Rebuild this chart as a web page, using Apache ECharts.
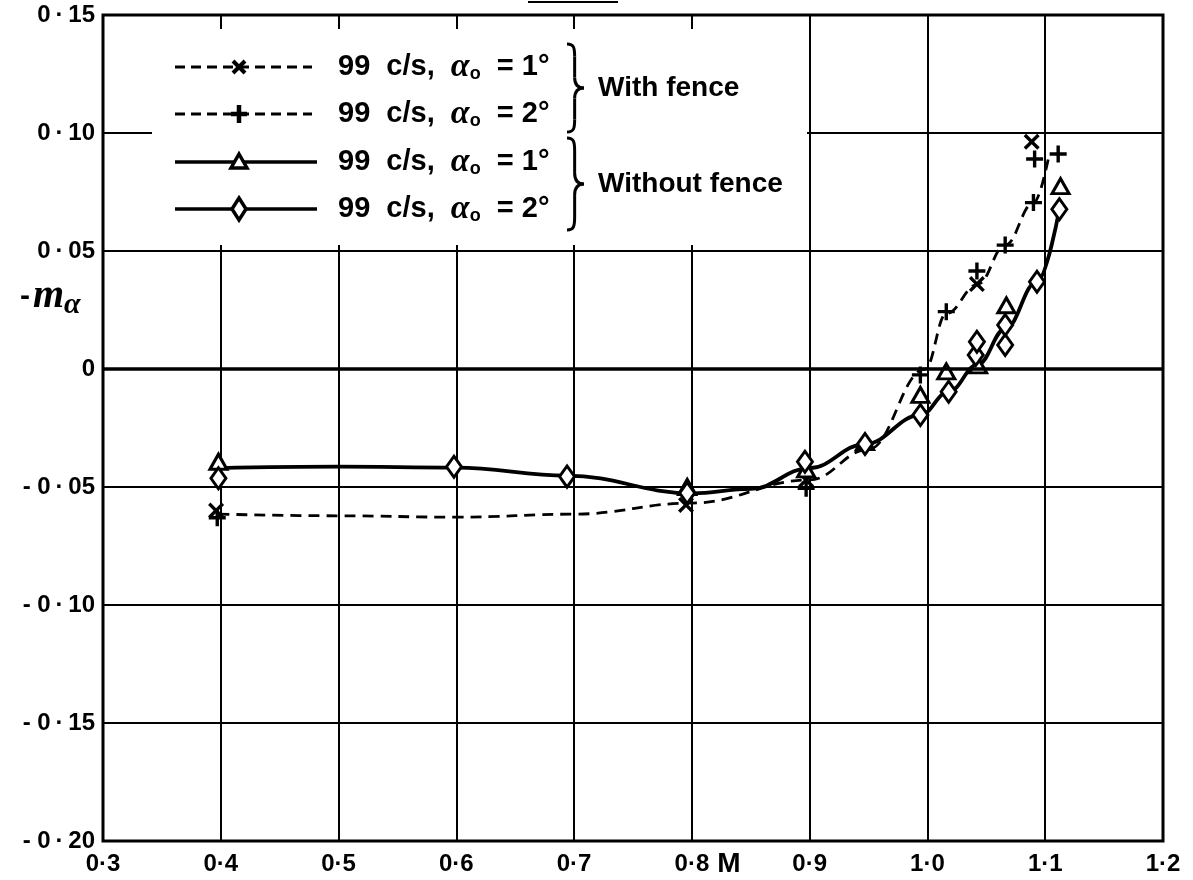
<!DOCTYPE html>
<html>
<head>
<meta charset="utf-8">
<script src="https://cdn.jsdelivr.net/npm/echarts@6/dist/echarts.min.js"></script>
<style>
  html, body { margin: 0; padding: 0; background: #fff; }
  #chart { width: 1193px; height: 880px; }
</style>
</head>
<body>
<div id="chart"></div>
<script>
// Axis ticks and their printed labels
const xTicks = [0.3, 0.4, 0.5, 0.6, 0.7, 0.8, 0.9, 1.0, 1.1, 1.2];
const xTickLabels = ['0·3', '0·4', '0·5', '0·6', '0·7', '0·8', '0·9', '1·0', '1·1', '1·2'];
const yTicks = [0.15, 0.10, 0.05, 0, -0.05, -0.10, -0.15, -0.20];
const yTickLabels = ['0\u2009·\u200915', '0\u2009·\u200910', '0\u2009·\u200905', '0',
                     '- 0\u2009·\u200905', '- 0\u2009·\u200910', '- 0\u2009·\u200915', '- 0\u2009·\u200920'];

// Measured points [M, -m_alpha]
const fence1Pts = [[0.396, -0.0600], [0.795, -0.0576], [0.897, -0.0470], [1.042, 0.0360], [1.0885, 0.0963]];
const fence2Pts = [[0.397, -0.0630], [0.897, -0.0505], [0.994, -0.0025], [1.016, 0.0243], [1.042, 0.0415],
                   [1.066, 0.0525], [1.090, 0.0705], [1.091, 0.0890], [1.111, 0.0911]];
const noFence1Pts = [[0.398, -0.0393], [0.796, -0.0500], [0.897, -0.0425], [0.947, -0.0310], [0.994, -0.0110],
                     [1.016, -0.0010], [1.043, 0.0015], [1.067, 0.0270], [1.113, 0.0775]];
const noFence2Pts = [[0.398, -0.0463], [0.598, -0.0414], [0.694, -0.0456], [0.796, -0.0525], [0.896, -0.0393],
                     [0.947, -0.0318], [0.994, -0.0195], [1.018, -0.0096], [1.041, 0.0059], [1.042, 0.0115],
                     [1.066, 0.0102], [1.066, 0.0186], [1.093, 0.0370], [1.112, 0.0677]];

// Faired curves through the measurements
const fenceCurve = [[0.398, -0.0615], [0.5, -0.0622], [0.6, -0.0628], [0.7, -0.0615], [0.8, -0.0568],
                    [0.9, -0.0470], [0.95, -0.0340], [0.998, 0.0000], [1.016, 0.0235], [1.043, 0.0360],
                    [1.066, 0.0525], [1.090, 0.0703], [1.103, 0.0900]];
const noFenceCurve = [[0.398, -0.0420], [0.5, -0.0414], [0.6, -0.0418], [0.694, -0.0452], [0.8, -0.0527],
                      [0.85, -0.0508], [0.9, -0.0420], [0.947, -0.0318], [0.994, -0.0195], [1.018, -0.0096],
                      [1.043, 0.0020], [1.066, 0.0170], [1.093, 0.0370], [1.112, 0.0677]];

// Legend entries
const legendNames = ['99  c/s,  ', '99  c/s,  ', '99  c/s,  ', '99  c/s,  '];
const legendAngles = ['1°', '2°', '1°', '2°'];
const groupLabels = ['With fence', 'Without fence'];

const FONT = "'Liberation Sans', 'DejaVu Sans', sans-serif";
const SERIF = "'Liberation Serif', 'DejaVu Serif', serif";

const CROSS = 'path://M3,0 L10,7 L17,0 L20,3 L13,10 L20,17 L17,20 L10,13 L3,20 L0,17 L7,10 L0,3 Z';
const PLUS = 'path://M8,0 H12 V8 H20 V12 H12 V20 H8 V12 H0 V8 H8 Z';

function tickText(ticks, labels, v) {
  for (let i = 0; i < ticks.length; i++) {
    if (Math.abs(ticks[i] - v) < 1e-6) return labels[i];
  }
  return '';
}

// A right curly brace built from bezier pieces and straight strokes
function braceParts(x, y, w, h, z) {
  const m = x + w * 0.45;
  const st = { stroke: '#000', lineWidth: 3, fill: null };
  const bz = function (x1, y1, c1x, c1y, c2x, c2y, x2, y2) {
    return { type: 'bezierCurve', z: z, silent: true, style: st,
      shape: { x1: x1, y1: y1, cpx1: c1x, cpy1: c1y, cpx2: c2x, cpy2: c2y, x2: x2, y2: y2 } };
  };
  const ln = function (x1, y1, x2, y2) {
    return { type: 'line', z: z, silent: true, style: st, shape: { x1: x1, y1: y1, x2: x2, y2: y2 } };
  };
  return [
    bz(x, y, x + w * 0.4, y, m, y + h * 0.04, m, y + h * 0.14),
    ln(m, y + h * 0.14, m, y + h * 0.38),
    bz(m, y + h * 0.38, m, y + h * 0.47, x + w * 0.7, y + h * 0.5, x + w, y + h * 0.5),
    bz(x + w, y + h * 0.5, x + w * 0.7, y + h * 0.5, m, y + h * 0.53, m, y + h * 0.62),
    ln(m, y + h * 0.62, m, y + h * 0.86),
    bz(m, y + h * 0.86, m, y + h * 0.96, x + w * 0.4, y + h, x, y + h)
  ];
}

const markerStyle = {
  cross: { symbol: CROSS, size: 16, color: '#000', border: 0 },
  plus: { symbol: PLUS, size: 17, color: '#000', border: 0 },
  tri: { symbol: 'triangle', size: [17, 15], color: '#fff', border: 3 },
  dia: { symbol: 'diamond', size: [15, 21], color: '#fff', border: 3 }
};

function scatter(name, data, m) {
  return {
    name: name, type: 'scatter', data: data, z: 4,
    symbol: m.symbol, symbolSize: m.size,
    itemStyle: { color: m.color, borderColor: '#000', borderWidth: m.border, opacity: 1 },
    silent: true
  };
}

// Legend drawn as graphic elements
const legendRows = [67, 114, 162, 209];
const legendMarkers = ['cross', 'plus', 'tri', 'dia'];
const legendDashed = [true, true, false, false];
const legendGraphics = [];
legendGraphics.push({
  type: 'rect', z: 50, silent: true,
  shape: { x: 152, y: 29, width: 655, height: 216 },
  style: { fill: '#fff' }
});
legendRows.forEach(function (y, i) {
  legendGraphics.push({
    type: 'line', z: 60, silent: true,
    shape: { x1: 175, y1: y, x2: legendDashed[i] ? 312 : 317, y2: y },
    style: { stroke: '#000', lineWidth: legendDashed[i] ? 2.8 : 3.6, lineDash: legendDashed[i] ? [10, 6] : null }
  });
  const cx = 239;
  const mk = legendMarkers[i];
  if (mk === 'cross') {
    [[-6, -6, 6, 6], [6, -6, -6, 6]].forEach(function (s) {
      legendGraphics.push({ type: 'line', z: 61, silent: true,
        shape: { x1: cx + s[0], y1: y + s[1], x2: cx + s[2], y2: y + s[3] },
        style: { stroke: '#000', lineWidth: 4 } });
    });
  } else if (mk === 'plus') {
    [[0, -9, 0, 9], [-8, 0, 8, 0]].forEach(function (s) {
      legendGraphics.push({ type: 'line', z: 61, silent: true,
        shape: { x1: cx + s[0], y1: y + s[1], x2: cx + s[2], y2: y + s[3] },
        style: { stroke: '#000', lineWidth: 4.5 } });
    });
  } else if (mk === 'tri') {
    legendGraphics.push({ type: 'polygon', z: 61, silent: true,
      shape: { points: [[cx, y - 8], [cx + 8, y + 6], [cx - 8, y + 6]] },
      style: { stroke: '#000', lineWidth: 3.5, fill: '#fff' } });
  } else {
    legendGraphics.push({ type: 'polygon', z: 61, silent: true,
      shape: { points: [[cx, y - 11], [cx + 7, y], [cx, y + 11], [cx - 7, y]] },
      style: { stroke: '#000', lineWidth: 3.5, fill: '#fff' } });
  }
  legendGraphics.push({
    type: 'text', z: 60, silent: true, x: 338, y: y,
    style: {
      text: '{t|' + legendNames[i] + '}{a|α}{s|o}{t|  = ' + legendAngles[i] + '}',
      verticalAlign: 'middle',
      rich: {
        t: { fontFamily: FONT, fontWeight: 'bold', fontSize: 29, fill: '#000' },
        a: { fontFamily: SERIF, fontStyle: 'italic', fontWeight: 'bold', fontSize: 34, fill: '#000' },
        s: { fontFamily: FONT, fontWeight: 'bold', fontSize: 18, fill: '#000', padding: [14, 0, 0, 0] }
      }
    }
  });
});
// Group braces and labels
[[44, 88], [138, 92]].forEach(function (b, i) {
  braceParts(567, b[0], 17, b[1], 60).forEach(function (p) { legendGraphics.push(p); });
  legendGraphics.push({
    type: 'text', z: 60, silent: true, x: 598, y: b[0] + b[1] / 2,
    style: { text: groupLabels[i], fontFamily: FONT, fontWeight: 'bold', fontSize: 28, fill: '#000', verticalAlign: 'middle' }
  });
});
// Axis titles
legendGraphics.push({
  type: 'text', z: 60, silent: true, x: 729, y: 864,
  style: { text: 'M', fontFamily: FONT, fontWeight: 'bold', fontSize: 28, fill: '#000', align: 'center', verticalAlign: 'middle' }
});
legendGraphics.push({
  type: 'text', z: 60, silent: true, x: 20, y: 297,
  style: {
    text: '{d|-}{m|m}{s|α}',
    verticalAlign: 'middle',
    rich: {
      d: { fontFamily: FONT, fontWeight: 'bold', fontSize: 30, fill: '#000', padding: [0, 3, 0, 0] },
      m: { fontFamily: SERIF, fontStyle: 'italic', fontWeight: 'bold', fontSize: 40, fill: '#000' },
      s: { fontFamily: SERIF, fontStyle: 'italic', fontWeight: 'bold', fontSize: 30, fill: '#000', padding: [16, 0, 0, 0] }
    }
  }
});
legendGraphics.push({
  type: 'line', z: 60, silent: true,
  shape: { x1: 528, y1: 2, x2: 618, y2: 2 },
  style: { stroke: '#000', lineWidth: 2 }
});

const chart = echarts.init(document.getElementById('chart'), null, { renderer: 'canvas' });
chart.setOption({
  animation: false,
  backgroundColor: '#fff',
  grid: { left: 103, right: 30, top: 15, bottom: 39, show: true, borderColor: '#000', borderWidth: 3, backgroundColor: 'transparent' },
  xAxis: {
    type: 'value', min: 0.3, max: 1.2, interval: 0.1,
    axisLine: { show: false }, axisTick: { show: false },
    splitLine: { show: true, lineStyle: { color: '#000', width: 2 } },
    axisLabel: {
      color: '#000', fontFamily: FONT, fontWeight: 'bold', fontSize: 24, margin: 11,
      formatter: function (v) { return tickText(xTicks, xTickLabels, v); }
    }
  },
  yAxis: {
    type: 'value', min: -0.20, max: 0.15, interval: 0.05,
    axisLine: { show: false }, axisTick: { show: false },
    splitLine: { show: true, lineStyle: { color: '#000', width: 2 } },
    axisLabel: {
      color: '#000', fontFamily: FONT, fontWeight: 'bold', fontSize: 24, margin: 8,
      formatter: function (v) { return tickText(yTicks, yTickLabels, v); }
    }
  },
  graphic: legendGraphics,
  series: [
    {
      name: 'fence curve', type: 'line', data: fenceCurve, showSymbol: false, z: 3,
      smooth: 0.4, smoothMonotone: 'x', silent: true,
      lineStyle: { color: '#000', width: 2.8, type: [11, 7] },
      markLine: {
        silent: true, symbol: 'none', label: { show: false },
        lineStyle: { color: '#000', width: 3.5, type: 'solid' },
        data: [{ yAxis: 0 }]
      }
    },
    {
      name: 'no fence curve', type: 'line', data: noFenceCurve, showSymbol: false, z: 3,
      smooth: 0.4, smoothMonotone: 'x', silent: true,
      lineStyle: { color: '#000', width: 3.8, type: 'solid' }
    },
    scatter('99 c/s, α₀ = 1° (with fence)', fence1Pts, markerStyle.cross),
    scatter('99 c/s, α₀ = 2° (with fence)', fence2Pts, markerStyle.plus),
    scatter('99 c/s, α₀ = 1° (without fence)', noFence1Pts, markerStyle.tri),
    scatter('99 c/s, α₀ = 2° (without fence)', noFence2Pts, markerStyle.dia)
  ]
});
</script>
</body>
</html>
